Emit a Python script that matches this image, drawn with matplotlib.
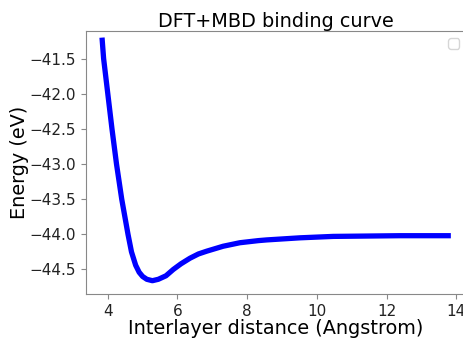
import matplotlib
matplotlib.use("Agg")
import matplotlib.pyplot as plt

distance = [3.84, 3.88, 4.00, 4.12, 4.25, 4.40, 4.58, 4.68, 4.80, 4.90, 5.00,
            5.12, 5.28, 5.45, 5.67, 5.88, 6.10, 6.36, 6.60, 6.84, 7.31, 7.79,
            8.32, 8.56, 9.52, 10.47, 12.39, 13.77]
energy = [-41.24, -41.50, -42.00, -42.50, -43.00, -43.50, -44.00, -44.25, -44.44,
          -44.54, -44.60, -44.64, -44.66, -44.64, -44.59, -44.50, -44.42, -44.34,
          -44.28, -44.24, -44.17, -44.12, -44.09, -44.08, -44.05, -44.03, -44.02,
          -44.02]

fig = plt.figure(figsize=(4.64, 3.38), dpi=100)
ax = fig.add_axes([0.185, 0.130, 0.820, 0.778])
ax.plot(distance, energy, color="blue", linewidth=3.8)
ax.set_title("DFT+MBD binding curve", fontsize=13.9, pad=3)
ax.set_xlabel("Interlayer distance (Angstrom)", fontsize=13.9, labelpad=0)
ax.set_ylabel("Energy (eV)", fontsize=13.9, labelpad=0.5)
ax.tick_params(labelsize=11, color="#888888", labelcolor="#222222")
for s in ax.spines.values():
    s.set_color("#888888")
ax.set_xticks([4, 6, 8, 10, 12, 14])
ax.set_yticks([-41.5, -42.0, -42.5, -43.0, -43.5, -44.0, -44.5])
ax.set_xlim(3.37, 14.29)
ax.set_ylim(-44.85, -41.11)
ax.legend(loc="upper right")
fig.savefig("out.png", dpi=100)
